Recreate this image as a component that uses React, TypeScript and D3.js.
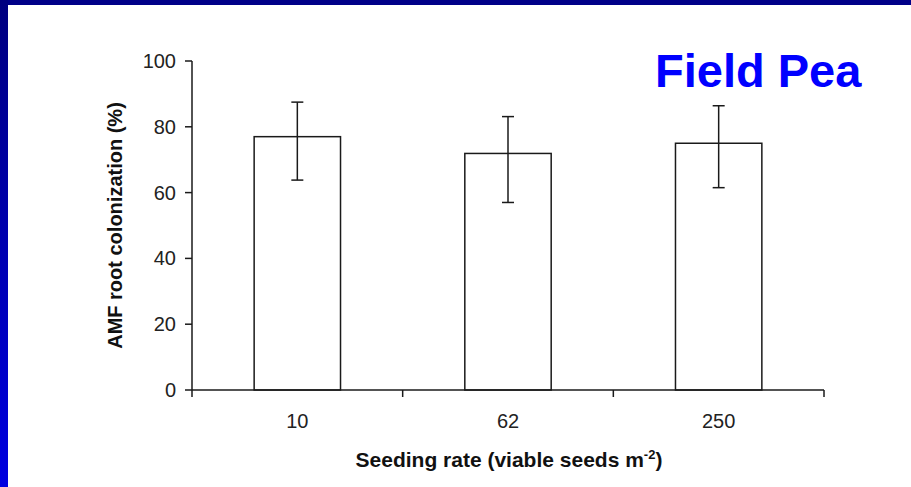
import * as d3 from 'd3';

const categories = ['10', '62', '250'];
const means = [77.0, 71.9, 75.0];
const errHigh = [87.5, 83.1, 86.4];
const errLow = [63.8, 57.0, 61.5];
const yTicks = [0, 20, 40, 60, 80, 100];

const W = 911;
const H = 487;
const FONT = '"Liberation Sans", Arial, sans-serif';
const INK = '#1a1a1a';

export default function App() {
  const x = d3.scaleBand().domain(categories).range([192, 824]).padding(0);
  const y = d3.scaleLinear().domain([0, 100]).range([390, 61]);
  const barW = x.bandwidth() * 0.41;
  const capW = 12;

  // tick marks between categories, incl. both ends
  const bounds = categories.map((c) => x(c) as number).concat([x.range()[1]]);

  return (
    <svg
      width={W}
      height={H}
      style={{ position: 'absolute', left: 0, top: 0, background: '#fff' }}
    >
      <defs>
        <linearGradient id="side" x1="0" y1="0" x2="0" y2="1">
          <stop offset="0" stopColor="#000080" />
          <stop offset="1" stopColor="#0000e0" />
        </linearGradient>
      </defs>
      <rect x={0} y={0} width={W} height={5} fill="#000088" />
      <rect x={0} y={0} width={8} height={H} fill="url(#side)" />

      {/* bars */}
      {categories.map((c, i) => {
        const cx = (x(c) as number) + x.bandwidth() / 2;
        return (
          <g key={c}>
            <rect
              x={cx - barW / 2}
              y={y(means[i])}
              width={barW}
              height={y(0) - y(means[i])}
              fill="#fff"
              stroke={INK}
              strokeWidth={1.5}
            />
            <line x1={cx} x2={cx} y1={y(errHigh[i])} y2={y(errLow[i])} stroke={INK} strokeWidth={1.5} />
            <line x1={cx - capW / 2} x2={cx + capW / 2} y1={y(errHigh[i])} y2={y(errHigh[i])} stroke={INK} strokeWidth={1.5} />
            <line x1={cx - capW / 2} x2={cx + capW / 2} y1={y(errLow[i])} y2={y(errLow[i])} stroke={INK} strokeWidth={1.5} />
            <text
              x={cx}
              y={428}
              textAnchor="middle"
              fontFamily={FONT}
              fontSize={20}
              fill="#222"
            >
              {c}
            </text>
          </g>
        );
      })}

      {/* y axis */}
      <line x1={192} x2={192} y1={y(100)} y2={y(0)} stroke={INK} strokeWidth={1.5} />
      {yTicks.map((t) => (
        <g key={t}>
          <line x1={185} x2={192} y1={y(t)} y2={y(t)} stroke={INK} strokeWidth={1.5} />
          <text
            x={176}
            y={y(t) + 7}
            textAnchor="end"
            fontFamily={FONT}
            fontSize={20}
            fill="#222"
          >
            {t}
          </text>
        </g>
      ))}

      {/* x axis */}
      <line x1={192} x2={824} y1={y(0)} y2={y(0)} stroke={INK} strokeWidth={1.5} />
      {bounds.map((b, i) => (
        <line key={i} x1={b} x2={b} y1={y(0)} y2={y(0) + 7} stroke={INK} strokeWidth={1.5} />
      ))}

      <text
        x={509}
        y={467}
        textAnchor="middle"
        fontFamily={FONT}
        fontSize={21}
        fontWeight="bold"
        fill="#111"
      >
        Seeding rate (viable seeds m
        <tspan fontSize={13} dy={-8}>-2</tspan>
        <tspan dy={8}>)</tspan>
      </text>
      <text
        transform={`translate(122,${(y(0) + y(100)) / 2}) rotate(-90)`}
        textAnchor="middle"
        fontFamily={FONT}
        fontSize={20}
        fontWeight="bold"
        fill="#111"
      >
        AMF root colonization (%)
      </text>

      <text x={655} y={87} fontFamily={FONT} fontSize={47} fontWeight="bold" fill="#0000ff">
        Field Pea
      </text>
    </svg>
  );
}
